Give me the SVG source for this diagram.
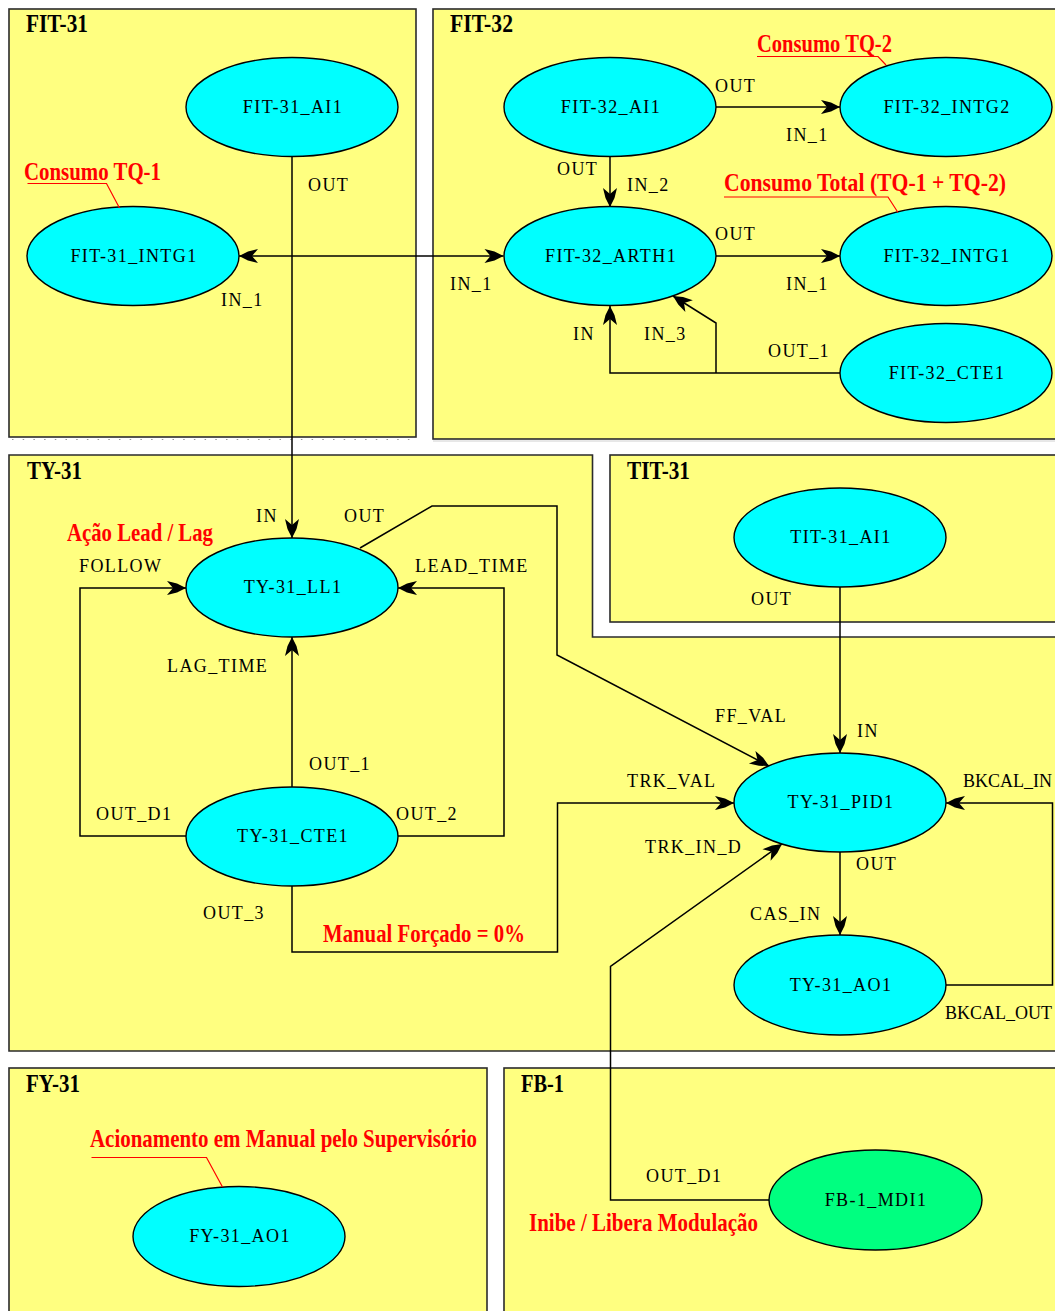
<svg xmlns="http://www.w3.org/2000/svg" width="1055" height="1311" viewBox="0 0 1055 1311">
  <defs>
    <style>
      .panel { fill: #FFFF80; stroke: #2b2b2b; stroke-width: 1.6; }
      .blk { fill: #00FFFF; stroke: #000; stroke-width: 1.4; }
      .blk.green { fill: #00FF80; }
      .wire { fill: none; stroke: #000; stroke-width: 1.5; }
      .arrow { marker-end: url(#ah); }
      .lead { fill: none; stroke: #FF0000; stroke-width: 1.2; }
      .lbl { font-family: "Liberation Serif", "Times New Roman", serif; font-size: 18px; letter-spacing: 1.4px; fill: #000; }
      .tight { letter-spacing: 0; }
      .name { text-anchor: middle; }
      .title { font-family: "Liberation Serif", "Times New Roman", serif; font-weight: bold; font-size: 25px; fill: #000; }
      .note { font-family: "Liberation Serif", "Times New Roman", serif; font-weight: bold; font-size: 25px; fill: #FF0000; }
    </style>
    <marker id="ah" markerUnits="userSpaceOnUse" orient="auto" markerWidth="20" markerHeight="16" viewBox="-20 -8 20 16" refX="0" refY="0">
      <path d="M0,0 L-9,-4.5 L-19,-7 L-13,0 L-19,7 L-9,4.5 Z" fill="#000"/>
    </marker>
  </defs>

  <rect width="1055" height="1311" fill="#fff"/>

  <!-- function block areas -->
  <g id="areas">
    <g id="area-fit31">
      <rect class="panel" x="9" y="9" width="407" height="428"/>
      <line x1="12" y1="439.5" x2="416" y2="439.5" stroke="#9a9a9a" stroke-width="1" stroke-dasharray="1.5 9.2"/>
      <text class="title" x="26" y="32" textLength="62" lengthAdjust="spacingAndGlyphs">FIT-31</text>
    </g>
    <g id="area-fit32">
      <rect class="panel" x="433" y="9" width="640" height="430"/>
      <line x1="433" y1="441" x2="1055" y2="441" stroke="#d0d0d0" stroke-width="1"/>
      <text class="title" x="450" y="32" textLength="63" lengthAdjust="spacingAndGlyphs">FIT-32</text>
    </g>
    <g id="area-ty31">
      <path class="panel" d="M9,455 H592.5 V637 H1070 V1051 H9 Z"/>
      <text class="title" x="27" y="479" textLength="55" lengthAdjust="spacingAndGlyphs">TY-31</text>
    </g>
    <g id="area-tit31">
      <rect class="panel" x="610" y="455" width="460" height="167"/>
      <text class="title" x="627" y="479" textLength="63" lengthAdjust="spacingAndGlyphs">TIT-31</text>
    </g>
    <g id="area-fy31">
      <rect class="panel" x="9" y="1068" width="478" height="260"/>
      <text class="title" x="26" y="1092" textLength="54" lengthAdjust="spacingAndGlyphs">FY-31</text>
    </g>
    <g id="area-fb1">
      <rect class="panel" x="504" y="1068" width="570" height="260"/>
      <text class="title" x="521" y="1092" textLength="43" lengthAdjust="spacingAndGlyphs">FB-1</text>
    </g>
  </g>

  <!-- links between blocks -->
  <g id="links">
    <path class="wire arrow" d="M292,157 V538"/>
    <path class="wire arrow" d="M292,256 H239"/>
    <path class="wire arrow" d="M292,256 H503.5"/>
    <path class="wire arrow" d="M716,107 H840"/>
    <path class="wire arrow" d="M610,157 V207"/>
    <path class="wire arrow" d="M716,256 H840"/>
    <path class="wire arrow" d="M840,373 H610 V306"/>
    <path class="wire arrow" d="M716,373 V323 L673,296"/>
    <path class="wire arrow" d="M360,548 L432,506 H557 V655 L769,766"/>
    <path class="wire arrow" d="M186,836 H80 V588 H186"/>
    <path class="wire arrow" d="M398,836 H504 V588 H398"/>
    <path class="wire arrow" d="M292,787 V637"/>
    <path class="wire arrow" d="M292,886 V952 H557.5 V803 H734"/>
    <path class="wire arrow" d="M840,587 V753"/>
    <path class="wire arrow" d="M840,852 V935"/>
    <path class="wire arrow" d="M946,985 H1052.5 V803 H946"/>
    <path class="wire arrow" d="M769,1200 H610.5 V966.5 L782,844"/>
  </g>

  <!-- port names -->
  <g id="ports" class="lbl">
    <text x="308" y="191">OUT</text>
    <text x="221" y="306">IN_1</text>
    <text x="715" y="92">OUT</text>
    <text x="786" y="141">IN_1</text>
    <text x="557" y="175">OUT</text>
    <text x="627" y="191">IN_2</text>
    <text x="715" y="240">OUT</text>
    <text x="786" y="290">IN_1</text>
    <text x="450" y="290">IN_1</text>
    <text x="573" y="340">IN</text>
    <text x="644" y="340">IN_3</text>
    <text x="768" y="357">OUT_1</text>
    <text x="256" y="522">IN</text>
    <text x="344" y="522">OUT</text>
    <text x="79" y="572">FOLLOW</text>
    <text x="415" y="572">LEAD_TIME</text>
    <text x="167" y="672">LAG_TIME</text>
    <text x="309" y="770">OUT_1</text>
    <text x="96" y="820">OUT_D1</text>
    <text x="396" y="820">OUT_2</text>
    <text x="203" y="919">OUT_3</text>
    <text x="751" y="605">OUT</text>
    <text x="857" y="737">IN</text>
    <text x="715" y="722">FF_VAL</text>
    <text x="627" y="787">TRK_VAL</text>
    <text class="tight" x="963" y="787">BKCAL_IN</text>
    <text x="645" y="853">TRK_IN_D</text>
    <text x="856" y="870">OUT</text>
    <text x="750" y="920">CAS_IN</text>
    <text class="tight" x="945" y="1019">BKCAL_OUT</text>
    <text x="646" y="1182">OUT_D1</text>
  </g>

  <!-- blocks -->
  <g id="FIT-31_AI1"><ellipse class="blk" cx="292" cy="107" rx="106" ry="49.5"/><text class="lbl name" x="293" y="113">FIT-31_AI1</text></g>
  <g id="FIT-31_INTG1"><ellipse class="blk" cx="133" cy="256" rx="106" ry="49.5"/><text class="lbl name" x="134" y="262">FIT-31_INTG1</text></g>
  <g id="FIT-32_AI1"><ellipse class="blk" cx="610" cy="107" rx="106" ry="49.5"/><text class="lbl name" x="611" y="113">FIT-32_AI1</text></g>
  <g id="FIT-32_INTG2"><ellipse class="blk" cx="946" cy="107" rx="106" ry="49.5"/><text class="lbl name" x="947" y="113">FIT-32_INTG2</text></g>
  <g id="FIT-32_ARTH1"><ellipse class="blk" cx="610" cy="256" rx="106" ry="49.5"/><text class="lbl name" x="611" y="262">FIT-32_ARTH1</text></g>
  <g id="FIT-32_INTG1"><ellipse class="blk" cx="946" cy="256" rx="106" ry="49.5"/><text class="lbl name" x="947" y="262">FIT-32_INTG1</text></g>
  <g id="FIT-32_CTE1"><ellipse class="blk" cx="946" cy="373" rx="106" ry="49.5"/><text class="lbl name" x="947" y="379">FIT-32_CTE1</text></g>
  <g id="TY-31_LL1"><ellipse class="blk" cx="292" cy="587.5" rx="106" ry="49.5"/><text class="lbl name" x="293" y="593">TY-31_LL1</text></g>
  <g id="TY-31_CTE1"><ellipse class="blk" cx="292" cy="836.5" rx="106" ry="49.5"/><text class="lbl name" x="293" y="842">TY-31_CTE1</text></g>
  <g id="TIT-31_AI1"><ellipse class="blk" cx="840" cy="537.5" rx="106" ry="49.5"/><text class="lbl name" x="841" y="543">TIT-31_AI1</text></g>
  <g id="TY-31_PID1"><ellipse class="blk" cx="840" cy="802.5" rx="106" ry="49.5"/><text class="lbl name" x="841" y="808">TY-31_PID1</text></g>
  <g id="TY-31_AO1"><ellipse class="blk" cx="840" cy="985" rx="106" ry="50"/><text class="lbl name" x="841" y="991">TY-31_AO1</text></g>
  <g id="FY-31_AO1"><ellipse class="blk" cx="239" cy="1236.5" rx="106" ry="50"/><text class="lbl name" x="240" y="1242">FY-31_AO1</text></g>
  <g id="FB-1_MDI1"><ellipse class="blk green" cx="875.5" cy="1200" rx="106.5" ry="50"/><text class="lbl name" x="876" y="1206">FB-1_MDI1</text></g>

  <!-- red annotations with leader lines -->
  <g id="notes">
    <text class="note" x="24" y="180" textLength="137" lengthAdjust="spacingAndGlyphs">Consumo TQ-1</text>
    <path class="lead" d="M27.5,183.5 H106.5 L119.5,208"/>
    <text class="note" x="757" y="52" textLength="135" lengthAdjust="spacingAndGlyphs">Consumo TQ-2</text>
    <path class="lead" d="M757,56.5 H878 L886,65"/>
    <text class="note" x="724" y="191" textLength="282" lengthAdjust="spacingAndGlyphs">Consumo Total (TQ-1 + TQ-2)</text>
    <path class="lead" d="M724,197 H888 L898,212.5"/>
    <text class="note" x="67" y="541" textLength="146" lengthAdjust="spacingAndGlyphs">Ação Lead / Lag</text>
    <text class="note" x="323" y="942" textLength="202" lengthAdjust="spacingAndGlyphs">Manual Forçado = 0%</text>
    <text class="note" x="90" y="1147" textLength="387" lengthAdjust="spacingAndGlyphs">Acionamento em Manual pelo Supervisório</text>
    <path class="lead" d="M91.5,1157.5 H206.5 L222.5,1187"/>
    <text class="note" x="529" y="1231" textLength="229" lengthAdjust="spacingAndGlyphs">Inibe / Libera Modulação</text>
  </g>
</svg>
